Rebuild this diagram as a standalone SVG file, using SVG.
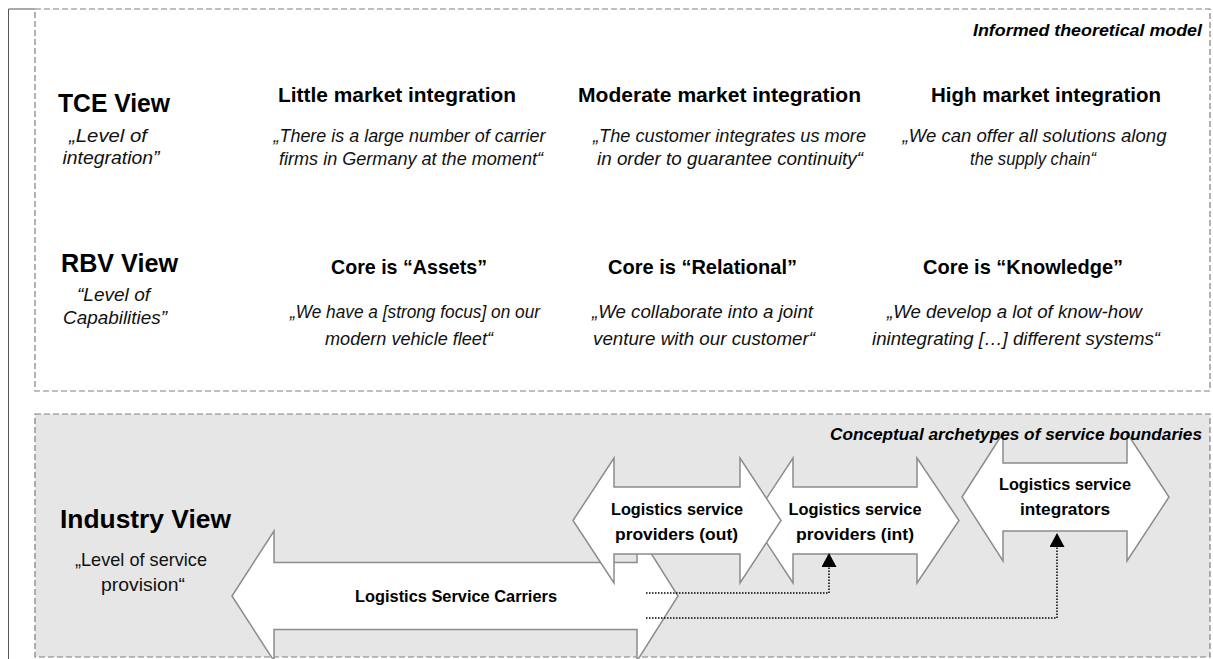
<svg xmlns="http://www.w3.org/2000/svg" width="1213" height="659" viewBox="0 0 1213 659">
<style>
text{font-family:"Liberation Sans",Arial,sans-serif;fill:#000;}
.h1{font-size:26px;font-weight:bold;text-anchor:middle;}
.h2{font-size:21px;font-weight:bold;text-anchor:middle;}
.q{font-size:18px;font-style:italic;text-anchor:middle;fill:#111;}
.s{font-size:19px;font-style:italic;text-anchor:middle;fill:#111;}
.r{font-size:18.5px;text-anchor:middle;fill:#111;}
.cap{font-size:17px;font-weight:bold;font-style:italic;text-anchor:middle;}
.al{font-size:16.5px;font-weight:bold;text-anchor:middle;}
.frame{stroke:#808080;stroke-width:1.2;stroke-dasharray:6 3;}
.white{fill:#fff;}
.grey{fill:#e6e6e6;}
.arrow{fill:#fff;stroke:#8c8c8c;stroke-width:1.5;stroke-linejoin:miter;}
.dot{fill:none;stroke:#000;stroke-width:1.5;stroke-dasharray:1.5 1.5;}
</style>
<defs>
<marker id="tri" markerUnits="userSpaceOnUse" markerWidth="16" markerHeight="16" refX="0" refY="7.5" orient="auto">
<path d="M0,0 L14,7.5 L0,15 Z" fill="#000"/>
</marker>
</defs>
<rect width="1213" height="659" fill="#fff"/>
<path d="M8.5,659 V9 H35" fill="none" stroke="#555" stroke-width="1"/>
<g id="theory-box">
<rect class="frame white" x="35" y="9" width="1175" height="382"/>
<text class="cap" x="1087.5" y="36" textLength="229" lengthAdjust="spacingAndGlyphs">Informed theoretical model</text>
</g>
<g id="tce-view">
<text class="h1" x="114" y="112" textLength="112" lengthAdjust="spacingAndGlyphs">TCE View</text>
<text class="s" x="108" y="142" textLength="78" lengthAdjust="spacingAndGlyphs">„Level of</text>
<text class="s" x="111" y="164" textLength="97" lengthAdjust="spacingAndGlyphs">integration”</text>
</g>
<g id="little-integration">
<text class="h2" x="397" y="102" textLength="238" lengthAdjust="spacingAndGlyphs">Little market integration</text>
<text class="q" x="409.5" y="142" textLength="272" lengthAdjust="spacingAndGlyphs">„There is a large number of carrier</text>
<text class="q" x="411" y="165" textLength="264" lengthAdjust="spacingAndGlyphs">firms in Germany at the moment“</text>
</g>
<g id="moderate-integration">
<text class="h2" x="719.5" y="102" textLength="283" lengthAdjust="spacingAndGlyphs">Moderate market integration</text>
<text class="q" x="729.5" y="142" textLength="273" lengthAdjust="spacingAndGlyphs">„The customer integrates us more</text>
<text class="q" x="730" y="165" textLength="266" lengthAdjust="spacingAndGlyphs">in order to guarantee continuity“</text>
</g>
<g id="high-integration">
<text class="h2" x="1046" y="102" textLength="230" lengthAdjust="spacingAndGlyphs">High market integration</text>
<text class="q" x="1034.5" y="142" textLength="264" lengthAdjust="spacingAndGlyphs">„We can offer all solutions along</text>
<text class="q" x="1033" y="165" textLength="126" lengthAdjust="spacingAndGlyphs">the supply chain“</text>
</g>
<g id="rbv-view">
<text class="h1" x="119.5" y="272" textLength="117" lengthAdjust="spacingAndGlyphs">RBV View</text>
<text class="s" x="113.5" y="301" textLength="73" lengthAdjust="spacingAndGlyphs">“Level of</text>
<text class="s" x="115" y="324" textLength="104" lengthAdjust="spacingAndGlyphs">Capabilities”</text>
</g>
<g id="core-assets">
<text class="h2" x="409" y="274" textLength="156" lengthAdjust="spacingAndGlyphs">Core is “Assets”</text>
<text class="q" x="415" y="318" textLength="250" lengthAdjust="spacingAndGlyphs">„We have a [strong focus] on our</text>
<text class="q" x="409" y="345" textLength="168" lengthAdjust="spacingAndGlyphs">modern vehicle fleet“</text>
</g>
<g id="core-relational">
<text class="h2" x="702.5" y="274" textLength="189" lengthAdjust="spacingAndGlyphs">Core is “Relational”</text>
<text class="q" x="702.5" y="318" textLength="221" lengthAdjust="spacingAndGlyphs">„We collaborate into a joint</text>
<text class="q" x="704" y="345" textLength="222" lengthAdjust="spacingAndGlyphs">venture with our customer“</text>
</g>
<g id="core-knowledge">
<text class="h2" x="1023" y="274" textLength="200" lengthAdjust="spacingAndGlyphs">Core is “Knowledge”</text>
<text class="q" x="1014.5" y="318" textLength="255" lengthAdjust="spacingAndGlyphs">„We develop a lot of know-how</text>
<text class="q" x="1016" y="345" textLength="288" lengthAdjust="spacingAndGlyphs">inintegrating […] different systems“</text>
</g>
<g id="industry-box">
<rect class="frame grey" x="35" y="414" width="1175" height="243"/>
</g>
<g id="industry-view">
<text class="h1" x="145.5" y="528" textLength="171" lengthAdjust="spacingAndGlyphs">Industry View</text>
<text class="r" x="141" y="566" textLength="132" lengthAdjust="spacingAndGlyphs">„Level of service</text>
<text class="r" x="143" y="591" textLength="84" lengthAdjust="spacingAndGlyphs">provision“</text>
</g>
<g id="carriers">
<path class="arrow" d="M232,596 L274,531 V562.5 H637 V531 L678,596 L637,661 V629.5 H274 V661 Z"/>
<text class="al" x="456" y="602" textLength="202" lengthAdjust="spacingAndGlyphs">Logistics Service Carriers</text>
</g>
<g id="providers-int">
<path class="arrow" d="M752,520.5 L793,458 V487 H917 V458 L959,520.5 L917,583 V554 H793 V583 Z"/>
<text class="al" x="855" y="515" textLength="133" lengthAdjust="spacingAndGlyphs">Logistics service</text>
<text class="al" x="855" y="540" textLength="118" lengthAdjust="spacingAndGlyphs">providers (int)</text>
</g>
<g id="providers-out">
<path class="arrow" d="M573,520.5 L614,458 V487 H740 V458 L781,520.5 L740,583 V554 H614 V583 Z"/>
<text class="al" x="677" y="515" textLength="132" lengthAdjust="spacingAndGlyphs">Logistics service</text>
<text class="al" x="676.5" y="540" textLength="123" lengthAdjust="spacingAndGlyphs">providers (out)</text>
</g>
<g id="integrators">
<path class="arrow" d="M962,497 L1003,433 V463 H1127 V433 L1169,497 L1127,561 V531 H1003 V561 Z"/>
<text class="al" x="1065" y="490" textLength="132" lengthAdjust="spacingAndGlyphs">Logistics service</text>
<text class="al" x="1065" y="515" textLength="90" lengthAdjust="spacingAndGlyphs">integrators</text>
</g>
<g id="connectors">
<path class="dot" d="M646,593 H829 V567" marker-end="url(#tri)"/>
<path class="dot" d="M646,618 H1057 V547" marker-end="url(#tri)"/>
</g>
<g id="industry-caption">
<text class="cap" x="1016" y="440" textLength="372" lengthAdjust="spacingAndGlyphs">Conceptual archetypes of service boundaries</text>
</g>
</svg>
